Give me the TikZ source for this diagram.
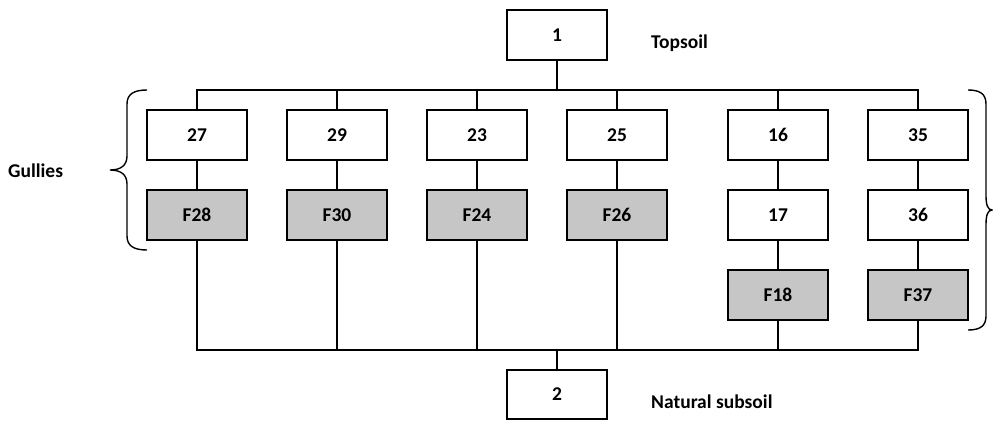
\documentclass[tikz,border=0pt]{standalone}
\usepackage{fontspec}
\setmainfont{Carlito}
\definecolor{boxgray}{RGB}{198,198,198}
\begin{document}
\begin{tikzpicture}[x=1pt,y=-1pt,
  every node/.style={font=\bfseries\fontsize{19.5}{23}\selectfont},
  unit/.style={draw=black,line width=1.8pt,fill=white,minimum width=100pt,minimum height=50pt,inner sep=0pt},
  feat/.style={unit,fill=boxgray},
  link/.style={line width=1.8pt},
  lbl/.style={anchor=base west,inner sep=0pt}]
\useasboundingbox (0,0) rectangle (993,421);
\node[unit] (n1) at (557,35) {1};
\node[unit] (n27) at (197,135) {27};
\node[unit] (n29) at (337,135) {29};
\node[unit] (n23) at (477,135) {23};
\node[unit] (n25) at (617,135) {25};
\node[unit] (n16) at (778,135) {16};
\node[unit] (n35) at (918,135) {35};
\node[feat] (f28) at (197,215) {F28};
\node[feat] (f30) at (337,215) {F30};
\node[feat] (f24) at (477,215) {F24};
\node[feat] (f26) at (617,215) {F26};
\node[unit] (n17) at (778,215) {17};
\node[unit] (n36) at (918,215) {36};
\node[feat] (f18) at (778,295) {F18};
\node[feat] (f37) at (918,295) {F37};
\node[unit,minimum height=49pt] (n2) at (557,394.5) {2};
\node[lbl] (top) at (651,48) {Topsoil};
\node[lbl] (sub) at (651,408) {Natural subsoil};
\node[lbl] (gul) at (8,177) {Gullies};
\coordinate (tb) at (557,90);
\coordinate (bb) at (557,350);
% top bus
\draw[link] (n27.north) |- (n35.north |- tb) -- (n35.north);
\foreach \n in {n29,n23,n25,n16} \draw[link] (\n.north) -- (\n.north |- tb);
\draw[link] (n1.south) -- (tb);
% vertical chains
\draw[link] (n27) -- (f28);
\draw[link] (n29) -- (f30);
\draw[link] (n23) -- (f24);
\draw[link] (n25) -- (f26);
\draw[link] (n16) -- (n17) -- (f18);
\draw[link] (n35) -- (n36) -- (f37);
% bottom bus
\draw[link] (f28.south) |- (f37.south |- bb) -- (f37.south);
\foreach \n in {f30,f24,f26,f18} \draw[link] (\n.south) -- (\n.south |- bb);
\draw[link] (bb) -- (n2.north);
% braces
\draw[line width=1.4pt] (147,90) .. controls (134,90) and (127,94) .. (127,104) -- (127,156)
  .. controls (127,166) and (120,170) .. (110,170)
  .. controls (120,170) and (127,174) .. (127,184) -- (127,236)
  .. controls (127,246) and (134,250) .. (147,250);
\draw[line width=1.4pt] (968,90) .. controls (980,90) and (986,94) .. (986,104) -- (986,196)
  .. controls (986,205) and (988,210) .. (992,210)
  .. controls (988,210) and (986,215) .. (986,224) -- (986,316)
  .. controls (986,326) and (980,330) .. (968,330);
\end{tikzpicture}
\end{document}
